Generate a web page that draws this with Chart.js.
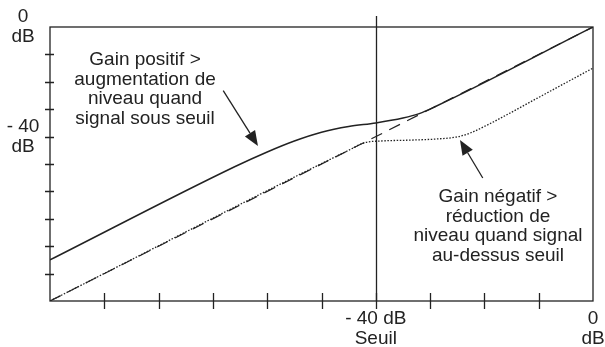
<!DOCTYPE html>
<html>
<head>
<meta charset="utf-8">
<script src="https://cdn.jsdelivr.net/npm/chart.js@4/dist/chart.umd.min.js"></script>
<style>
  html, body { margin: 0; padding: 0; background: #fff; }
</style>
</head>
<body>
<canvas id="compander-chart" width="605" height="347"></canvas>
<script>
const SOLID_X = [-100, -66, -60, -55, -50, -45, -40, -35, -32, -29, 0];
const SOLID_Y = [-85, -51, -45.6, -41.6, -38.4, -36.3, -35, -33.2, -31.6, -29, 0];

const DOTTED_X = [-100, -45, -42, -39, -34, -29, -25, -22.5, -19.5, -16.5, -10, 0];
const DOTTED_Y = [-100, -45, -42.2, -41.6, -41.3, -40.9, -40.1, -38.6, -35.8, -32.7, -25.7, -15];

const DASHED_X = [-100, 0];
const DASHED_Y = [-100, 0];

const THRESHOLD = -40;
const MINOR_TICKS = [-90, -80, -70, -60, -50, -40, -30, -20, -10];
const X_LABEL_VALUES = [-40, 0];
const X_LABEL_TEXT = [["- 40 dB", "Seuil"], ["0", "dB"]];
const Y_LABEL_VALUES = [0, -40];
const Y_LABEL_TEXT = [["0", "dB"], ["- 40", "dB"]];

const INK = "#222";
const FONT = "'Liberation Sans', Arial, sans-serif";

function points(xs, ys) {
  return xs.map(function (x, i) { return { x: x, y: ys[i] }; });
}

// annotations placées en coordonnées de données
const NOTES = [
  { x: -82.5, y: -13.9, lines: ["Gain positif >", "augmentation de", "niveau quand", "signal sous seuil"],
    arrow: { from: [-68.1, -23.2], to: [-61.7, -43.4] } },
  { x: -17.5, y: -64.0, lines: ["Gain négatif >", "réduction de", "niveau quand signal", "au-dessus seuil"],
    arrow: { from: [-20.3, -55.1], to: [-24.5, -41.2] } },
];

const decorations = {
  id: "decorations",
  afterDatasetsDraw: function (chart) {
    const ctx = chart.ctx;
    const a = chart.chartArea;
    const xs = chart.scales.x;
    const ys = chart.scales.y;
    ctx.save();
    ctx.strokeStyle = INK;
    ctx.fillStyle = INK;
    ctx.lineWidth = 1.3;

    // cadre
    ctx.strokeRect(a.left, a.top, a.right - a.left, a.bottom - a.top);

    // ligne de seuil
    const tx = Math.round(xs.getPixelForValue(THRESHOLD)) + 0.5;
    ctx.beginPath();
    ctx.moveTo(tx, a.top - 11);
    ctx.lineTo(tx, a.bottom);
    ctx.stroke();

    // graduations
    ctx.beginPath();
    MINOR_TICKS.forEach(function (v) {
      const px = Math.round(xs.getPixelForValue(v)) + 0.5;
      ctx.moveTo(px, a.bottom - 8);
      ctx.lineTo(px, a.bottom + 8);
      const py = Math.round(ys.getPixelForValue(v)) + 0.5;
      ctx.moveTo(a.left - 5, py);
      ctx.lineTo(a.left + 4, py);
    });
    ctx.stroke();

    ctx.font = "19px " + FONT;
    ctx.textAlign = "center";

    // étiquettes des axes
    ctx.textBaseline = "middle";
    X_LABEL_VALUES.forEach(function (v, i) {
      const px = xs.getPixelForValue(v);
      X_LABEL_TEXT[i].forEach(function (t, k) { ctx.fillText(t, px, a.bottom + 18 + k * 20); });
    });
    Y_LABEL_VALUES.forEach(function (v, i) {
      const py = ys.getPixelForValue(v);
      const lines = Y_LABEL_TEXT[i];
      lines.forEach(function (t, k) {
        ctx.fillText(t, a.left - 27, py + (k - (lines.length - 1) / 2) * 20);
      });
    });

    // textes + flèches
    ctx.textBaseline = "alphabetic";
    NOTES.forEach(function (n) {
      const cx = xs.getPixelForValue(n.x);
      const cy = ys.getPixelForValue(n.y);
      n.lines.forEach(function (t, i) { ctx.fillText(t, cx, cy + i * 19.5); });

      const x0 = xs.getPixelForValue(n.arrow.from[0]);
      const y0 = ys.getPixelForValue(n.arrow.from[1]);
      const x1 = xs.getPixelForValue(n.arrow.to[0]);
      const y1 = ys.getPixelForValue(n.arrow.to[1]);
      const ang = Math.atan2(y1 - y0, x1 - x0);
      const len = 15, half = 6;
      const bx = x1 - len * Math.cos(ang), by = y1 - len * Math.sin(ang);
      ctx.beginPath();
      ctx.moveTo(x0, y0);
      ctx.lineTo(bx, by);
      ctx.stroke();
      ctx.beginPath();
      ctx.moveTo(x1, y1);
      ctx.lineTo(bx + half * Math.sin(ang), by - half * Math.cos(ang));
      ctx.lineTo(bx - half * Math.sin(ang), by + half * Math.cos(ang));
      ctx.closePath();
      ctx.fill();
    });
    ctx.restore();
  },
};

new Chart(document.getElementById("compander-chart"), {
  type: "line",
  data: {
    datasets: [
      {
        data: points(DASHED_X, DASHED_Y),
        borderColor: INK,
        borderWidth: 1.2,
        borderDash: [12, 8],
      },
      {
        data: points(DOTTED_X, DOTTED_Y),
        borderColor: INK,
        borderWidth: 1.3,
        borderDash: [1.5, 1.6],
        cubicInterpolationMode: "monotone",
      },
      {
        data: points(SOLID_X, SOLID_Y),
        borderColor: INK,
        borderWidth: 1.5,
        cubicInterpolationMode: "monotone",
      },
    ],
  },
  options: {
    responsive: false,
    animation: false,
    events: [],
    elements: { point: { radius: 0 } },
    layout: { padding: { top: 27, right: 12, left: 50, bottom: 46 } },
    plugins: { legend: { display: false }, tooltip: { enabled: false } },
    scales: {
      x: { type: "linear", min: -100, max: 0, display: false },
      y: { type: "linear", min: -100, max: 0, display: false },
    },
  },
  plugins: [decorations],
});
</script>
</body>
</html>
